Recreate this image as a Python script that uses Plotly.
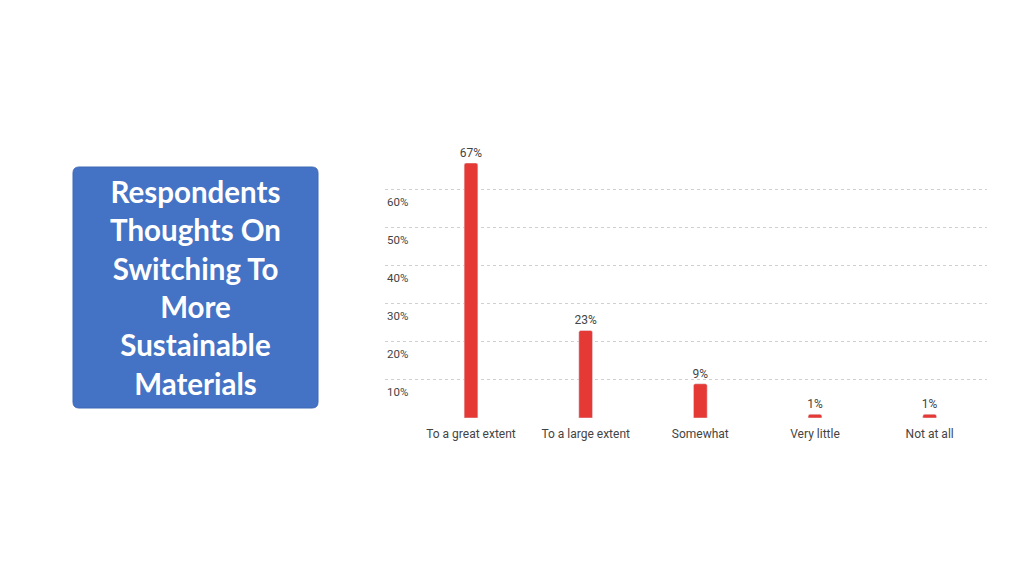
import plotly.graph_objects as go

categories = ["To a great extent", "To a large extent", "Somewhat", "Very little", "Not at all"]
values = [67, 23, 9, 1, 1]
value_labels = ["67%", "23%", "9%", "1%", "1%"]
tick_values = [10, 20, 30, 40, 50, 60]
tick_labels = ["10%", "20%", "30%", "40%", "50%", "60%"]
title_text = "Respondents<br>Thoughts On<br>Switching To<br>More<br>Sustainable<br>Materials"

OFF = 8
W, H = 1024 - 2 * OFF, 575 - 2 * OFF
def px(x): return (x - OFF) / W
def py(y): return 1 - (y - OFF) / H

x0, x1 = 385, 987
y_top, y_bot = 163, 418

fig = go.Figure(go.Bar(
    x=categories, y=values, text=value_labels, textposition="outside",
    textfont=dict(family="Roboto, Arial", size=12, color="#444"), constraintext="none",
    marker=dict(color="#E53935", cornerradius=2), width=0.12, cliponaxis=False,
))

fig.update_layout(
    width=W, height=H, plot_bgcolor="white", paper_bgcolor="white",
    margin=dict(l=0, r=0, t=0, b=0), showlegend=False,
    xaxis=dict(domain=[px(x0), px(x1)], range=[-0.75, 4.5], showgrid=False, showline=False, ticks="",
               ticklabelstandoff=7,
               tickfont=dict(family="Roboto, Arial", size=12, color="#444")),
    yaxis=dict(domain=[py(y_bot), py(y_top)], range=[0, 67], tickvals=[0] + tick_values,
               showticklabels=False, gridcolor="#d0d0d0", griddash="dot", gridwidth=1, zeroline=False),
)

for v, t in zip(tick_values, tick_labels):
    fig.add_annotation(xref="paper", x=px(x0), y=v, yref="y", text=t, showarrow=False,
                       xanchor="left", yanchor="top", yshift=-3,
                       font=dict(family="Roboto, Arial", size=11.5, color="#444"))

bx0, bx1, by0, by1, r = 73, 318, 167, 408, 6
pts = (f"M {px(bx0+r)},{py(by0)} L {px(bx1-r)},{py(by0)} Q {px(bx1)},{py(by0)} {px(bx1)},{py(by0+r)} "
       f"L {px(bx1)},{py(by1-r)} Q {px(bx1)},{py(by1)} {px(bx1-r)},{py(by1)} "
       f"L {px(bx0+r)},{py(by1)} Q {px(bx0)},{py(by1)} {px(bx0)},{py(by1-r)} "
       f"L {px(bx0)},{py(by0+r)} Q {px(bx0)},{py(by0)} {px(bx0+r)},{py(by0)} Z")
fig.add_shape(type="path", xref="paper", yref="paper", path=pts,
              fillcolor="#4472C4", line=dict(color="#3F68B5", width=1), layer="below")
fig.add_annotation(xref="paper", yref="paper", x=px(195.5), y=py(287.5),
                   xanchor="center", yanchor="middle",
                   text="<b>" + title_text + "</b>", showarrow=False,
                   font=dict(family="Lato", size=29.5, color="white"), align="center")

fig.write_html("out.html")
